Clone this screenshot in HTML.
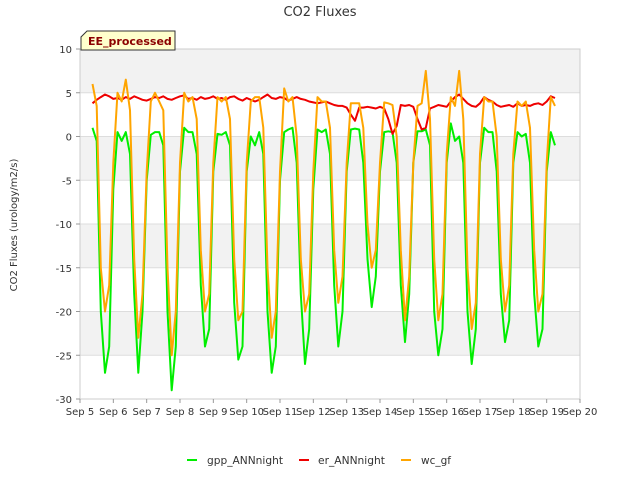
<!DOCTYPE html>
<html><head><meta charset="utf-8"><style>
body{margin:0;background:#fff;font-family:"Liberation Sans","DejaVu Sans",sans-serif}
</style></head><body>
<svg width="640" height="480" xmlns="http://www.w3.org/2000/svg" id="chart" font-family="DejaVu Sans, Liberation Sans, sans-serif">
<text x="320" y="16" text-anchor="middle" font-size="13" fill="#333">CO2 Fluxes</text>
<g id="plot"></g>
<g id="axes"></g>
<g id="series"></g>
<text transform="translate(17,225) rotate(-90)" text-anchor="middle" font-size="10" fill="#333">CO2 Fluxes (urology/m2/s)</text>
<g>
<path d="M87,31 H175 V50 H81 V37 Z" fill="#ffffcc" stroke="#333" stroke-width="1"/>
<text x="88" y="45" font-size="11" font-weight="bold" fill="#8b0000">EE_processed</text>
</g>
<g>
<g><line x1="187" y1="460" x2="197" y2="460" stroke="#00ee00" stroke-width="2"/><text x="207" y="464" font-size="11" fill="#333" textLength="76" lengthAdjust="spacingAndGlyphs">gpp_ANNnight</text></g>
<g><line x1="299" y1="460" x2="309" y2="460" stroke="#ee0000" stroke-width="2"/><text x="318" y="464" font-size="11" fill="#333" textLength="67" lengthAdjust="spacingAndGlyphs">er_ANNnight</text></g>
<g><line x1="401" y1="460" x2="411" y2="460" stroke="#ffa500" stroke-width="2"/><text x="421" y="464" font-size="11" fill="#333" textLength="30" lengthAdjust="spacingAndGlyphs">wc_gf</text></g>
</g>
</svg>
<script>
const xTickLabels=["Sep 5","Sep 6","Sep 7","Sep 8","Sep 9","Sep 10","Sep 11","Sep 12","Sep 13","Sep 14","Sep 15","Sep 16","Sep 17","Sep 18","Sep 19","Sep 20"];
const yTicks=[10,5,0,-5,-10,-15,-20,-25,-30];
const tStart=5.375, tStep=0.125;
const gpp=[
1,-0.5,-20,-27,-24,-6,0.5,-0.5,
0.5,-2,-18,-27,-20,-5,0.2,0.5,
0.5,-1,-20,-29,-24,-4,1,0.5,
0.5,-2,-17,-24,-22,-4,0.3,0.2,
0.5,-1,-19,-25.5,-24,-4,0,-1,
0.5,-2,-20,-27,-24,-5,0.5,0.8,
1,-3,-18,-26,-22,-6,0.8,0.5,
0.8,-2,-17,-24,-20,-4,0.8,0.9,
0.8,-3,-14,-19.5,-16,-4,0.5,0.6,
0.5,-3,-17,-23.5,-18,-3,0.6,0.6,
0.8,-1,-20,-25,-22,-3,1.5,-0.5,
0,-3,-20,-26,-22,-3,1,0.5,
0.5,-4,-18,-23.5,-21,-3,0.5,0,
0.3,-3,-18,-24,-22,-4,0.5,-1];
const er=[
3.8,4.2,4.5,4.8,4.6,4.3,4.4,4.2,
4.5,4.3,4.6,4.4,4.2,4.1,4.3,4.5,
4.4,4.6,4.3,4.2,4.4,4.6,4.7,4.3,
4.4,4.2,4.5,4.3,4.4,4.6,4.3,4.4,
4.2,4.5,4.6,4.3,4.1,4.4,4.2,4.0,
4.2,4.5,4.8,4.4,4.3,4.5,4.4,4.1,
4.3,4.5,4.3,4.2,4.0,3.9,3.8,3.9,
4.0,3.8,3.6,3.5,3.5,3.3,2.5,1.8,
3.3,3.3,3.4,3.3,3.2,3.4,3.2,2.0,
0.3,1.2,3.6,3.5,3.6,3.4,2.0,0.8,
1.0,3.2,3.4,3.6,3.5,3.4,4.0,4.5,
4.8,4.3,3.8,3.5,3.4,3.8,4.5,4.2,
4.0,3.6,3.4,3.5,3.6,3.4,3.8,3.5,
3.6,3.5,3.7,3.8,3.6,4.0,4.6,4.4];
const wc=[
6,3.5,-15,-20,-17,-3,5,4,
6.5,3,-14,-23,-18,-4,4,5,
4,3,-15,-25,-20,-3,5,4,
4.5,2,-13,-20,-18,-3,4.5,4,
4.5,2,-14,-21,-20,-3,4,4.5,
4.5,1,-15,-23,-20,-4,5.5,4,
4.5,0,-14,-20,-18,-4,4.5,4,
4,1,-13,-19,-16,-3,3.8,3.8,
3.8,1,-10,-15,-13,-3,3.9,3.8,
3.6,0,-13,-21,-16,-3,3.5,3.8,
7.5,2,-14,-21,-18,-2,4.5,3.5,
7.5,2,-15,-22,-19,-2,4.5,4,
4,0,-14,-20,-17,-2,4,3.5,
4,1,-13,-20,-18,-3,4.5,3.5];
const NS="http://www.w3.org/2000/svg";
const L=80,R=580,T=49,B=399;
const xS=t=>L+(t-5)/15*(R-L);
const yS=v=>T+(10-v)/40*(B-T);
function mk(tag,attrs,parent){const e=document.createElementNS(NS,tag);for(const k in attrs)e.setAttribute(k,attrs[k]);parent.appendChild(e);return e;}
const plot=document.getElementById('plot'),axes=document.getElementById('axes'),series=document.getElementById('series');
const bg=mk('rect',{x:L,y:T,width:R-L,height:B-T,fill:'#fff',stroke:'#ccc'},plot);


for(let i=0;i<yTicks.length-1;i++){
  if(i%2===0){const band=mk('rect',{x:L,y:yS(yTicks[i]),width:R-L,height:yS(yTicks[i+1])-yS(yTicks[i]),fill:'#f2f2f2'},plot);
  
  }
}
yTicks.forEach(v=>{
  const g=mk('line',{x1:L,x2:R,y1:yS(v),y2:yS(v),stroke:'#ddd'},plot);
  
  
  const tk=mk('line',{x1:L-4,x2:L,y1:yS(v),y2:yS(v),stroke:'#999'},axes);
  
  
  const tx=mk('text',{x:L-8,y:yS(v)+4,'text-anchor':'end','font-size':10,fill:'#333'},axes);
  tx.textContent=v;
  
  
});
mk('rect',{x:L,y:T,width:R-L,height:B-T,fill:'none',stroke:'#ccc'},plot);
xTickLabels.forEach((lab,i)=>{
  const x=xS(5+i);
  const tk=mk('line',{x1:x,x2:x,y1:B,y2:B+4,stroke:'#999'},axes);
  
  
  const tx=mk('text',{x:x,y:B+16,'text-anchor':'middle','font-size':10,fill:'#333'},axes);
  tx.textContent=lab;
  
  
});
function line(data,color,name){
  const pts=data.map((v,i)=>xS(tStart+i*tStep).toFixed(1)+','+yS(v).toFixed(1)).join(' ');
  const p=mk('polyline',{points:pts,fill:'none',stroke:color,'stroke-width':2,'stroke-linejoin':'round'},series);
  
  
}
line(gpp,'#00ee00','gpp-annnight-line');
line(er,'#ee0000','er-annnight-line');
line(wc,'#ffa500','wc-gf-line');
</script>
</body></html>
